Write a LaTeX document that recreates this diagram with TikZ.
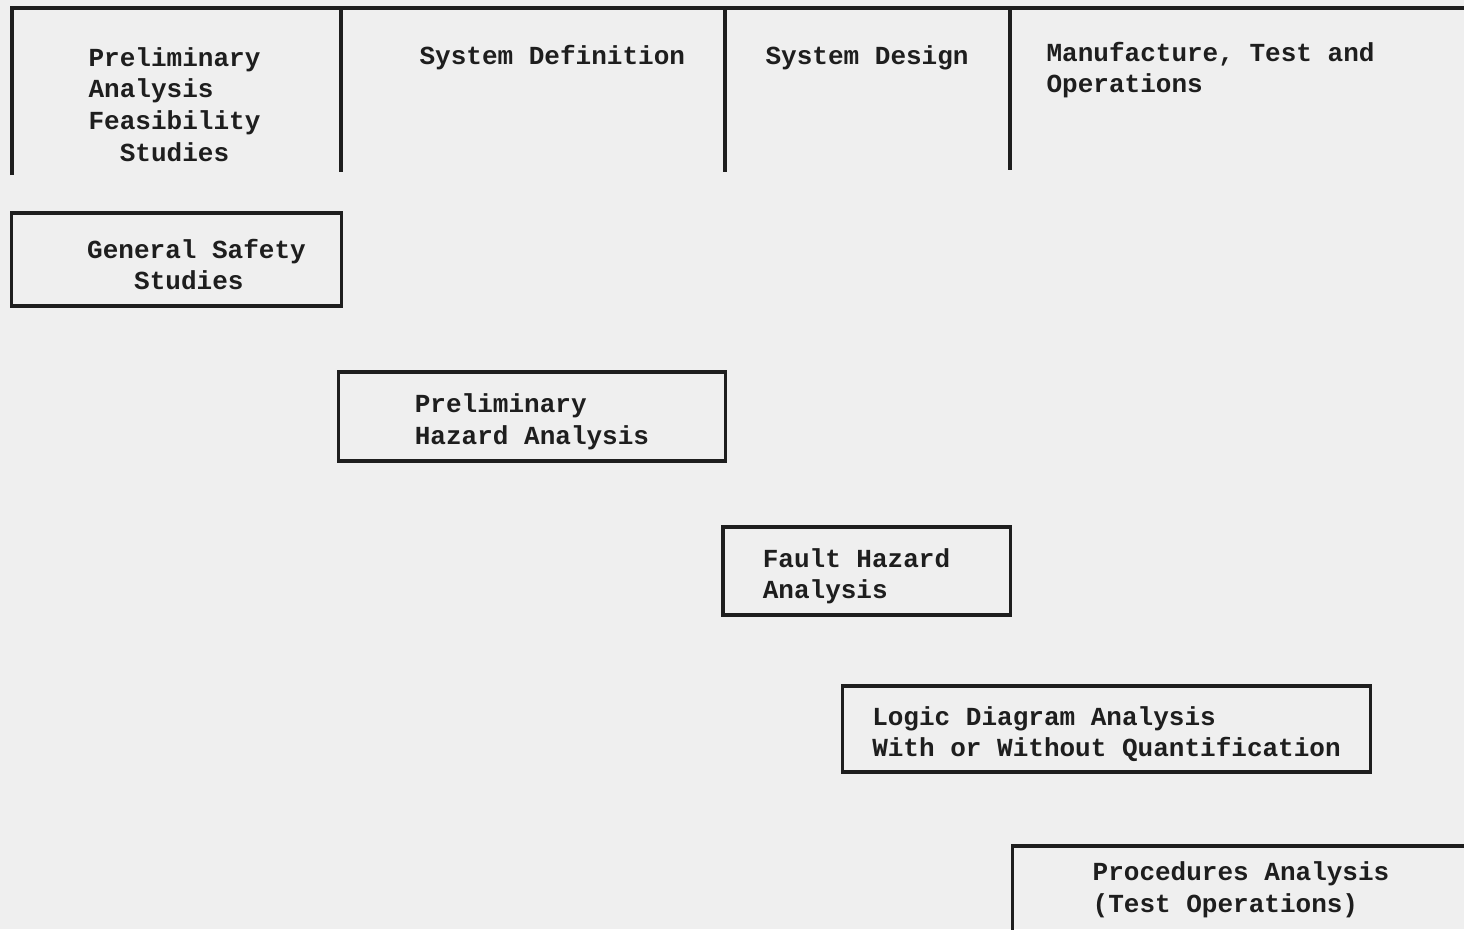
\documentclass[tikz,border=0pt]{standalone}
\usepackage{fontspec}
\setmainfont{Liberation Mono}
\definecolor{paper}{HTML}{EFEFEF}
\definecolor{ink}{HTML}{1E1E1E}
\newcommand{\typefont}{\fontsize{7.4pt}{9pt}\selectfont\bfseries}
\newcommand{\topgap}{\rule{0pt}{0.29cm}}
\tikzset{
  phase_t/.style = {align=left, inner sep=0pt, font=\typefont},
  task_n/.style = {phase_t, draw=ink, rectangle}}

\begin{document}
\begin{tikzpicture}[x=0.01cm, y=-0.01cm, line width=0.9pt, ink]
\clip (0,0) rectangle (1464,929);
\fill [paper] (0,0) rectangle (1464,929);

% phase columns
\draw (12,175) -- (12,8) -- (1464,8);
\draw (341,8) -- (341,172);
\draw (725,8) -- (725,172);
\draw (1010,8) -- (1010,170);

\node [phase_t] (prelim) at (174.5,104.5)
	{Preliminary\\Analysis\\Feasibility\\\hspace*{1.2em}Studies};
\node [phase_t, anchor=west] (sysdef) at (418,58) {System Definition};
\node [phase_t, anchor=west] (sysdes) at (764,58) {System Design};
\node [phase_t, anchor=west] (manuf) at (1045,70) {Manufacture, Test and\\Operations};

% analyses
\node [task_n, minimum width=3.29cm, minimum height=0.93cm]
	(gss) at (176.5,259.5) {\topgap\hspace*{0.4cm}General Safety\\\hspace*{0.87cm}Studies};
\node [task_n, minimum width=3.86cm, minimum height=0.89cm]
	(pha) at (532,416.5) {\topgap Preliminary\\Hazard Analysis};
\node [task_n, minimum width=2.87cm, minimum height=0.88cm]
	(fha) at (866.5,571) {\topgap Fault Hazard\hspace*{0.2cm}\\Analysis};
\node [task_n, minimum width=5.27cm, minimum height=0.86cm]
	(lda) at (1106.5,729) {\topgap Logic Diagram Analysis\\With or Without Quantification};
\node [task_n, minimum width=4.56cm, minimum height=0.88cm]
	(pra) at (1241,890) {Procedures Analysis\\(Test Operations)};
\end{tikzpicture}
\end{document}
